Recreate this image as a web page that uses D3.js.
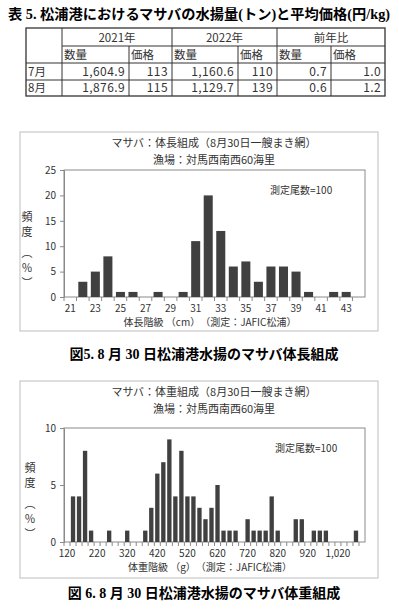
<!DOCTYPE html>
<html>
<head>
<meta charset="utf-8">
<script src="https://cdn.jsdelivr.net/npm/d3@7"></script>
<style>
  body { margin: 0; background: #fff; }
  svg text { font-family: "Noto Sans CJK JP", sans-serif; fill: #333; }
  .cap { font-family: "Liberation Serif", "Noto Sans CJK JP", serif; font-weight: bold; fill: #000; }
</style>
</head>
<body>
<div id="page"></div>
<script>
// table data
const tableYears = ["2021年", "2022年", "前年比"];
const subHeads = ["数量", "価格"];
const months = ["7月", "8月"];
const qty2021 = [1604.9, 1876.9];
const price2021 = [113, 115];
const qty2022 = [1160.6, 1129.7];
const price2022 = [110, 139];
const ratioQty = [0.7, 0.6];
const ratioPrice = [1.0, 1.2];

// length composition (cm, %)
const lengthClasses = [21, 22, 23, 24, 25, 26, 27, 28, 29, 30, 31, 32, 33, 34, 35, 36, 37, 38, 39, 40, 41, 42, 43, 44];
const lengthFreq = [0, 3, 5, 8, 1, 1, 0, 1, 0, 1, 11, 20, 13, 6, 7, 3, 6, 6, 5, 1, 0, 1, 1, 0];
const lengthTicks = [21, 23, 25, 27, 29, 31, 33, 35, 37, 39, 41, 43];

// weight composition (g, %)
const weightClasses = [120, 140, 160, 180, 200, 220, 240, 260, 280, 300, 320, 340, 360, 380, 400, 420, 440, 460, 480, 500,
  520, 540, 560, 580, 600, 620, 640, 660, 680, 700, 720, 740, 760, 780, 800, 820, 840, 860, 880, 900,
  920, 940, 960, 980, 1000, 1020, 1040, 1060, 1080, 1100];
const weightFreq = [0, 4, 4, 8, 1, 0, 0, 1, 0, 0, 1, 0, 0, 1, 3, 6, 7, 9, 4, 8,
  4, 4, 3, 2, 3, 5, 1, 1, 1, 0, 2, 1, 1, 1, 4, 1, 0, 0, 2, 2,
  0, 1, 1, 1, 0, 0, 0, 0, 1, 0];
const weightTicks = [120, 220, 320, 420, 520, 620, 720, 820, 920, 1020];

const W = 399, H = 613;
const svg = d3.select("#page").append("svg")
  .attr("width", W)
  .attr("height", H);

// title
svg.append("text")
  .attr("class", "cap")
  .attr("x", 8).attr("y", 19)
  .attr("font-size", 14)
  .attr("textLength", 382)
  .attr("lengthAdjust", "spacingAndGlyphs")
  .text("表 5. 松浦港におけるマサバの水揚量(トン)と平均価格(円/kg)");

// ---- table ----
const colX = [26, 62, 129, 172, 238, 277, 331, 385];
const rowY = [28, 46, 63, 80, 96];
const tbl = svg.append("g");
const fmtQ = d3.format(",.1f"), fmtR = d3.format(".1f");

// outer border
tbl.append("rect")
  .attr("x", colX[0]).attr("y", rowY[0])
  .attr("width", colX[7] - colX[0]).attr("height", rowY[4] - rowY[0])
  .attr("fill", "none").attr("stroke", "#333").attr("stroke-width", 1.3);

// horizontal lines
tbl.append("line").attr("x1", colX[1]).attr("x2", colX[7]).attr("y1", rowY[1]).attr("y2", rowY[1]);
[2, 3].forEach(i => tbl.append("line").attr("x1", colX[0]).attr("x2", colX[7]).attr("y1", rowY[i]).attr("y2", rowY[i]));
// vertical lines
[1, 3, 5].forEach(i => tbl.append("line").attr("x1", colX[i]).attr("x2", colX[i]).attr("y1", rowY[0]).attr("y2", rowY[4]));
[2, 4, 6].forEach(i => tbl.append("line").attr("x1", colX[i]).attr("x2", colX[i]).attr("y1", rowY[1]).attr("y2", rowY[4]));
tbl.selectAll("line").attr("stroke", "#333").attr("stroke-width", 1);

tableYears.forEach((t, i) => {
  tbl.append("text")
    .attr("x", (colX[1 + i * 2] + colX[3 + i * 2]) / 2)
    .attr("y", rowY[1] - 4.5)
    .attr("text-anchor", "middle")
    .attr("font-size", 11.5)
    .text(t);
  subHeads.forEach((s, j) => {
    tbl.append("text")
      .attr("x", colX[1 + i * 2 + j] + 2)
      .attr("y", rowY[2] - 4)
      .attr("font-size", 11.5)
      .text(s);
  });
});

const rowsText = months.map((m, i) => [
  m, fmtQ(qty2021[i]), price2021[i], fmtQ(qty2022[i]), price2022[i], fmtR(ratioQty[i]), fmtR(ratioPrice[i])
]);
rowsText.forEach((r, i) => {
  r.forEach((v, j) => {
    tbl.append("text")
      .attr("x", j === 0 ? colX[0] + 2 : colX[j + 1] - 4)
      .attr("y", rowY[i + 3] - 4)
      .attr("text-anchor", j === 0 ? "start" : "end")
      .attr("font-size", j === 0 ? 11.5 : 12)
      .attr("font-family", j === 0 ? null : "Noto Sans, sans-serif")
      .attr("letter-spacing", j === 0 ? null : "0.4px")
      .text(v);
  });
});

// ---- charts ----
function drawChart(o) {
  const g = svg.append("g");

  g.append("rect")
    .attr("x", 20).attr("y", o.frameTop)
    .attr("width", 358).attr("height", o.frameBottom - o.frameTop)
    .attr("fill", "#fff").attr("stroke", "#bdbdbd").attr("stroke-width", 1);

  g.append("text").attr("x", 214).attr("y", o.frameTop + 15)
    .attr("text-anchor", "middle").attr("font-size", 11)
    .text(o.title1);
  g.append("text").attr("x", 214).attr("y", o.frameTop + 32)
    .attr("text-anchor", "middle").attr("font-size", 11)
    .text("漁場：対馬西南西60海里");

  const x = d3.scaleBand()
    .domain(o.classes)
    .range([64, 365])
    .paddingInner(o.pad)
    .paddingOuter(o.pad / 2);
  const y = d3.scaleLinear()
    .domain([0, o.yMax])
    .range([o.plotBottom, o.plotTop]);

  // plot area border
  g.append("rect")
    .attr("x", 64).attr("y", o.plotTop)
    .attr("width", 301).attr("height", o.plotBottom - o.plotTop)
    .attr("fill", "none").attr("stroke", "#8a8a8a");

  // bars
  g.selectAll(".bar")
    .data(o.classes.map((c, i) => ({ c: c, v: o.freq[i] })).filter(d => d.v > 0))
    .join("rect")
      .attr("class", "bar")
      .attr("x", d => x(d.c))
      .attr("width", x.bandwidth())
      .attr("y", d => y(d.v))
      .attr("height", d => y(0) - y(d.v))
      .attr("fill", "#404040");

  // y axis
  const ya = g.append("g")
    .attr("transform", "translate(64,0)")
    .call(d3.axisLeft(y).tickValues(o.yTicks).tickSize(4).tickPadding(4));
  ya.select(".domain").attr("stroke", "#8a8a8a");
  ya.selectAll(".tick line").attr("stroke", "#8a8a8a");
  ya.selectAll(".tick text").attr("font-family", "Noto Sans, sans-serif").attr("font-size", 10).attr("fill", "#333");

  // x axis labels
  const xa = g.append("g")
    .attr("transform", `translate(0,${o.plotBottom})`)
    .call(d3.axisBottom(x).tickValues(o.ticks).tickSize(0).tickPadding(8).tickFormat(o.fmt));
  xa.select(".domain").remove();
  xa.selectAll(".tick text").attr("font-family", "Noto Sans, sans-serif").attr("font-size", 10).attr("fill", "#333");

  // category boundary ticks
  const half = (x.step() - x.bandwidth()) / 2;
  g.selectAll(".ctick")
    .data(o.classes)
    .join("line")
      .attr("x1", d => x(d) - half).attr("x2", d => x(d) - half)
      .attr("y1", o.plotBottom).attr("y2", o.plotBottom + 4)
      .attr("stroke", "#8a8a8a");

  g.append("text")
    .attr("x", o.nX).attr("y", o.plotTop + 24)
    .attr("font-size", 10)
    .text("測定尾数=100");

  g.append("text")
    .attr("x", 210).attr("y", o.plotBottom + 29)
    .attr("text-anchor", "middle").attr("font-size", 10)
    .text(o.xTitle);

  // y title (vertical)
  g.append("text")
    .attr("x", o.yTitleX).attr("y", o.yTitleY)
    .attr("font-size", 11)
    .style("writing-mode", "vertical-rl")
    .style("letter-spacing", "4px")
    .text("頻度 （％）");

  svg.append("text")
    .attr("class", "cap")
    .attr("x", 204).attr("y", o.capY)
    .attr("text-anchor", "middle")
    .attr("font-size", 14)
    .text(o.caption);
}

drawChart({
  frameTop: 132, frameBottom: 331,
  title1: "マサバ：体長組成（8月30日一艘まき網）",
  classes: lengthClasses, freq: lengthFreq, ticks: lengthTicks, fmt: d => d,
  pad: 0.28, yMax: 25, yTicks: [0, 5, 10, 15, 20, 25],
  plotTop: 170, plotBottom: 297, nX: 270,
  xTitle: "体長階級 （cm）　（測定：JAFIC松浦）",
  yTitleX: 27, yTitleY: 211,
  caption: "図5.  8 月 30  日松浦港水揚のマサバ体長組成", capY: 359
});

drawChart({
  frameTop: 381, frameBottom: 578,
  title1: "マサバ：体重組成（8月30日一艘まき網）",
  classes: weightClasses, freq: weightFreq, ticks: weightTicks, fmt: d3.format(","),
  pad: 0.28, yMax: 10, yTicks: [0, 5, 10],
  plotTop: 428, plotBottom: 542, nX: 275,
  xTitle: "体重階級 （g）　（測定：JAFIC松浦）",
  yTitleX: 30, yTitleY: 462,
  caption: "図 6. 8 月 30 日松浦港水揚のマサバ体重組成", capY: 598
});
</script>
</body>
</html>
